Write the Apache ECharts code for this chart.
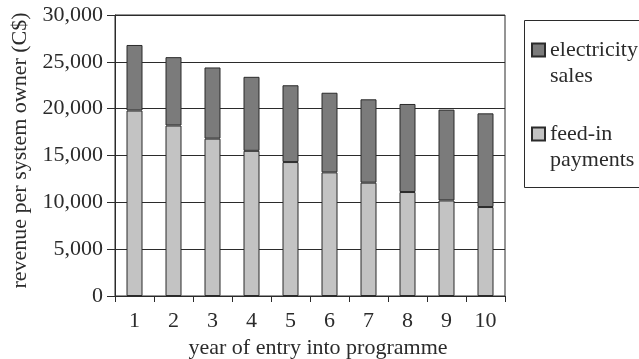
<!DOCTYPE html>
<html>
<head>
<meta charset="utf-8">
<script src="https://cdn.jsdelivr.net/npm/echarts@6/dist/echarts.min.js"></script>
<style>
  html, body { margin: 0; padding: 0; background: #fff; }
  #chart { width: 639px; height: 359px; }
</style>
</head>
<body>
<div id="chart"></div>
<script>
// Year of entry into the programme
const years = ['1', '2', '3', '4', '5', '6', '7', '8', '9', '10'];
// Revenue per system owner (C$), stacked: feed-in payments at the bottom
const feedInPayments = [19800, 18200, 16800, 15500, 14300, 13200, 12100, 11100, 10200, 9500];
const electricitySales = [7000, 7300, 7600, 7900, 8200, 8500, 8900, 9400, 9700, 10000];

const FONT = '"Liberation Serif", "DejaVu Serif", serif';
const INK = '#2b2b2b';
const FS = 22;

// Legend swatch: a 13px square sitting at the top of a taller symbol box,
// so it lines up with the first line of the two-line legend labels.
const SWATCH = 'path://M0,0L13,0L13,13L0,13ZM0,39';

const chart = echarts.init(document.getElementById('chart'));
chart.setOption({
  animation: false,
  backgroundColor: '#fff',
  textStyle: { fontFamily: FONT, color: INK },
  grid: {
    left: 115, right: 134, top: 15, bottom: 63,
    outerBoundsMode: 'none',
    containLabel: false,
    show: true, borderColor: INK, borderWidth: 1
  },
  legend: {
    orient: 'vertical',
    left: 526, top: 32,
    itemWidth: 13, itemHeight: 39,
    itemGap: 32,
    icon: SWATCH,
    data: ['electricity sales', 'feed-in payments'],
    formatter: name => name.replace(' ', '\n'),
    textStyle: { fontFamily: FONT, fontSize: FS, color: INK, lineHeight: 26 }
  },
  graphic: [{
    type: 'rect',
    shape: { x: 524.5, y: 20.5, width: 200, height: 167 },
    style: { fill: 'none', stroke: INK, lineWidth: 1 },
    z: -1
  }],
  xAxis: {
    type: 'category',
    data: years,
    name: 'year of entry into programme',
    nameLocation: 'middle',
    nameGap: 37,
    nameTextStyle: { fontFamily: FONT, fontSize: FS, color: INK, padding: [0, 0, 0, 16] },
    axisLine: { lineStyle: { color: INK, width: 1 } },
    axisTick: { show: true, length: 6, lineStyle: { color: INK } },
    axisLabel: { fontFamily: FONT, fontSize: FS, color: INK, margin: 14 }
  },
  yAxis: {
    type: 'value',
    min: 0, max: 30000, interval: 5000,
    name: 'revenue per system owner (C$)',
    nameLocation: 'middle',
    nameGap: 83,
    nameRotate: 90,
    nameTextStyle: { fontFamily: FONT, fontSize: FS, color: INK, padding: [0, 0, 0, 10] },
    axisLine: { show: true, lineStyle: { color: INK, width: 1 } },
    axisTick: { show: true, length: 8, lineStyle: { color: INK } },
    axisLabel: {
      fontFamily: FONT, fontSize: FS, color: INK, margin: 12,
      formatter: v => v.toLocaleString('en-US')
    },
    splitLine: { show: true, lineStyle: { color: INK, width: 1 } }
  },
  series: [
    {
      name: 'feed-in payments',
      type: 'bar',
      stack: 'revenue',
      barWidth: 16,
      data: feedInPayments,
      itemStyle: { color: '#c3c3c3', borderColor: INK, borderWidth: 1 }
    },
    {
      name: 'electricity sales',
      type: 'bar',
      stack: 'revenue',
      barWidth: 16,
      data: electricitySales,
      itemStyle: { color: '#7b7b7b', borderColor: INK, borderWidth: 1 }
    }
  ]
});
</script>
</body>
</html>
